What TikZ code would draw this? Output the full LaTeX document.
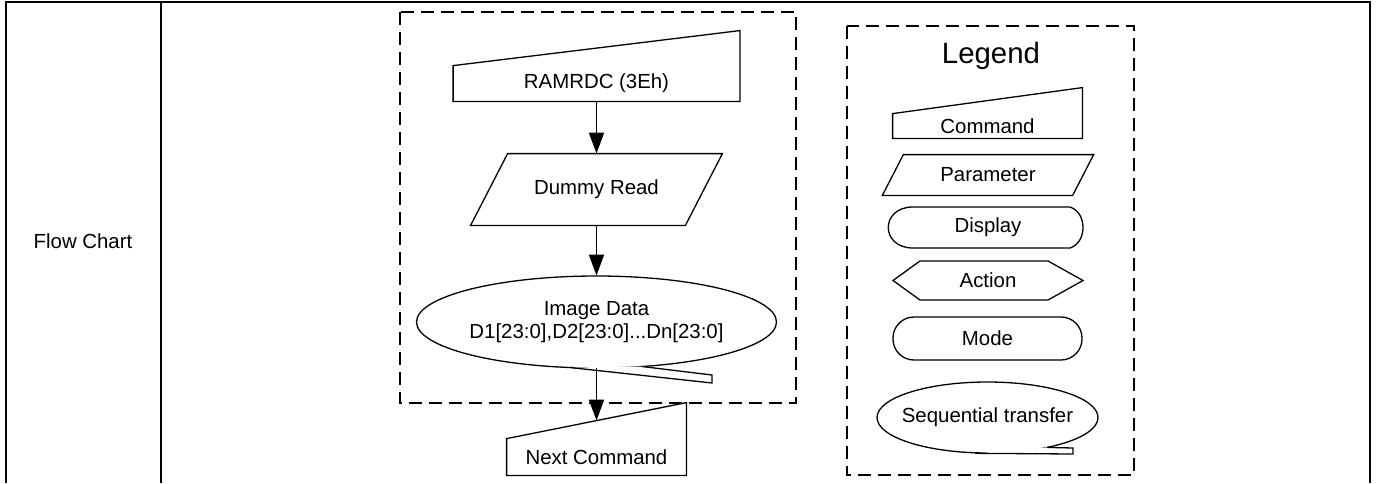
\documentclass[tikz,border=0pt]{standalone}
\usepackage{fontspec}
\setmainfont{Liberation Sans}
\usetikzlibrary{shapes.geometric, arrows.meta, positioning, calc}

\tikzset{
  outline/.style={draw, line width=0.65pt},
  txt/.style={font=\fontsize{10.2}{11.5}\selectfont, inner sep=0pt},
  flow/.style={-{Triangle[length=10.5pt, width=7.5pt]}, line width=0.9pt},
  dashbox/.style={dash pattern=on 6.5pt off 3.5pt, line width=1pt},
  tableline/.style={line width=1pt}
}

\begin{document}
\begin{tikzpicture}[x=0.5pt, y=-0.5pt]
\useasboundingbox (0,0) rectangle (1377,483);

% table frame
\draw[tableline] (6,483) -- (6,2) -- (1370,2) -- (1370,483);
\draw[tableline] (161,2) -- (161,483);
\node[txt] (rowname) at (83,241) {Flow Chart};

% read sequence
\draw[dashbox] (400,12) rectangle (796,403);

\node[txt, minimum width=143pt, minimum height=17.5pt] (cmd) at (596.5,83.5) {RAMRDC (3Eh)};
\draw[outline] (cmd.north west) -- ([yshift=17.5pt]cmd.north east) -- (cmd.south east) -- (cmd.south west) -- cycle;

\node[txt, minimum width=107pt, minimum height=35.5pt] (read) at (596.5,189.5) {Dummy Read};
\draw[outline] ([xshift=9.25pt]read.north west) -- ([xshift=9.25pt]read.north east)
  -- ([xshift=-9.25pt]read.south east) -- ([xshift=-9.25pt]read.south west) -- cycle;

\node[txt, align=center, minimum width=180pt, minimum height=46pt] (img) at (596.5,322) {Image Data\\D1[23:0],D2[23:0]...Dn[23:0]};
\draw[outline] (img.center) ellipse (90pt and 23pt);
\fill[white] (570,367.5) -- (712,383) -- (712,375) -- (642,366.5) -- cycle;
\draw[outline] (570,367.5) -- (712,383) -- (712,375) -- (642,366.5);

\node[txt, minimum width=89.5pt, minimum height=18pt] (next) at (596.5,457) {Next Command};
\draw[outline] (next.north west) -- ([yshift=18pt]next.north east) -- (next.south east) -- (next.south west) -- cycle;

\draw[flow] (cmd.south) -- (read.north);
\draw[flow] (read.south) -- (img.north);
\draw[flow] (img.south) -- ([yshift=9pt]next.north);

% legend
\draw[dashbox] (847,26) rectangle (1134,475);
\node[font=\fontsize{14.7}{16}\selectfont, inner sep=0pt, anchor=base] (legend) at (991,63) {Legend};

\node[txt, minimum width=94.5pt, minimum height=12pt] (lcmd) at (987.5,126) {Command};
\draw[outline] (lcmd.north west) -- ([yshift=13pt]lcmd.north east) -- (lcmd.south east) -- (lcmd.south west) -- cycle;

\node[txt, minimum width=94.75pt, minimum height=20pt] (lpar) at (988,175) {Parameter};
\draw[outline] ([xshift=5.25pt]lpar.north west) -- ([xshift=5.25pt]lpar.north east)
  -- ([xshift=-5.25pt]lpar.south east) -- ([xshift=-5.25pt]lpar.south west) -- cycle;

\node[txt] (ldisp) at (988,227.5) {Display};
\draw[outline] (913,207) -- (1070,207) .. controls (1079,210) and (1083,219) .. (1083,227.5)
  .. controls (1083,236) and (1079,245) .. (1070,248) -- (913,248)
  .. controls (880,248) and (880,207) .. (913,207) -- cycle;

\node[txt] (lact) at (988,280.5) {Action};
\draw[outline] (893,280.5) -- (920,261) -- (1048,261) -- (1083,280.5) -- (1048,300) -- (920,300) -- cycle;

\node[txt, outline, rounded corners=10.5pt, minimum width=94.5pt, minimum height=21.5pt] (lmode) at (987.5,338.5) {Mode};

\node[txt, minimum width=110.5pt, minimum height=35.5pt] (lseq) at (987.5,417.5) {Sequential transfer};
\draw[outline] (lseq.center) ellipse (55.25pt and 17.75pt);
\fill[white] (975,453.3) -- (1073,454) -- (1073,448) -- (1047,447.4) -- cycle;
\draw[outline] (975,453.3) -- (1073,454) -- (1073,448) -- (1047,447.4);
\end{tikzpicture}
\end{document}
